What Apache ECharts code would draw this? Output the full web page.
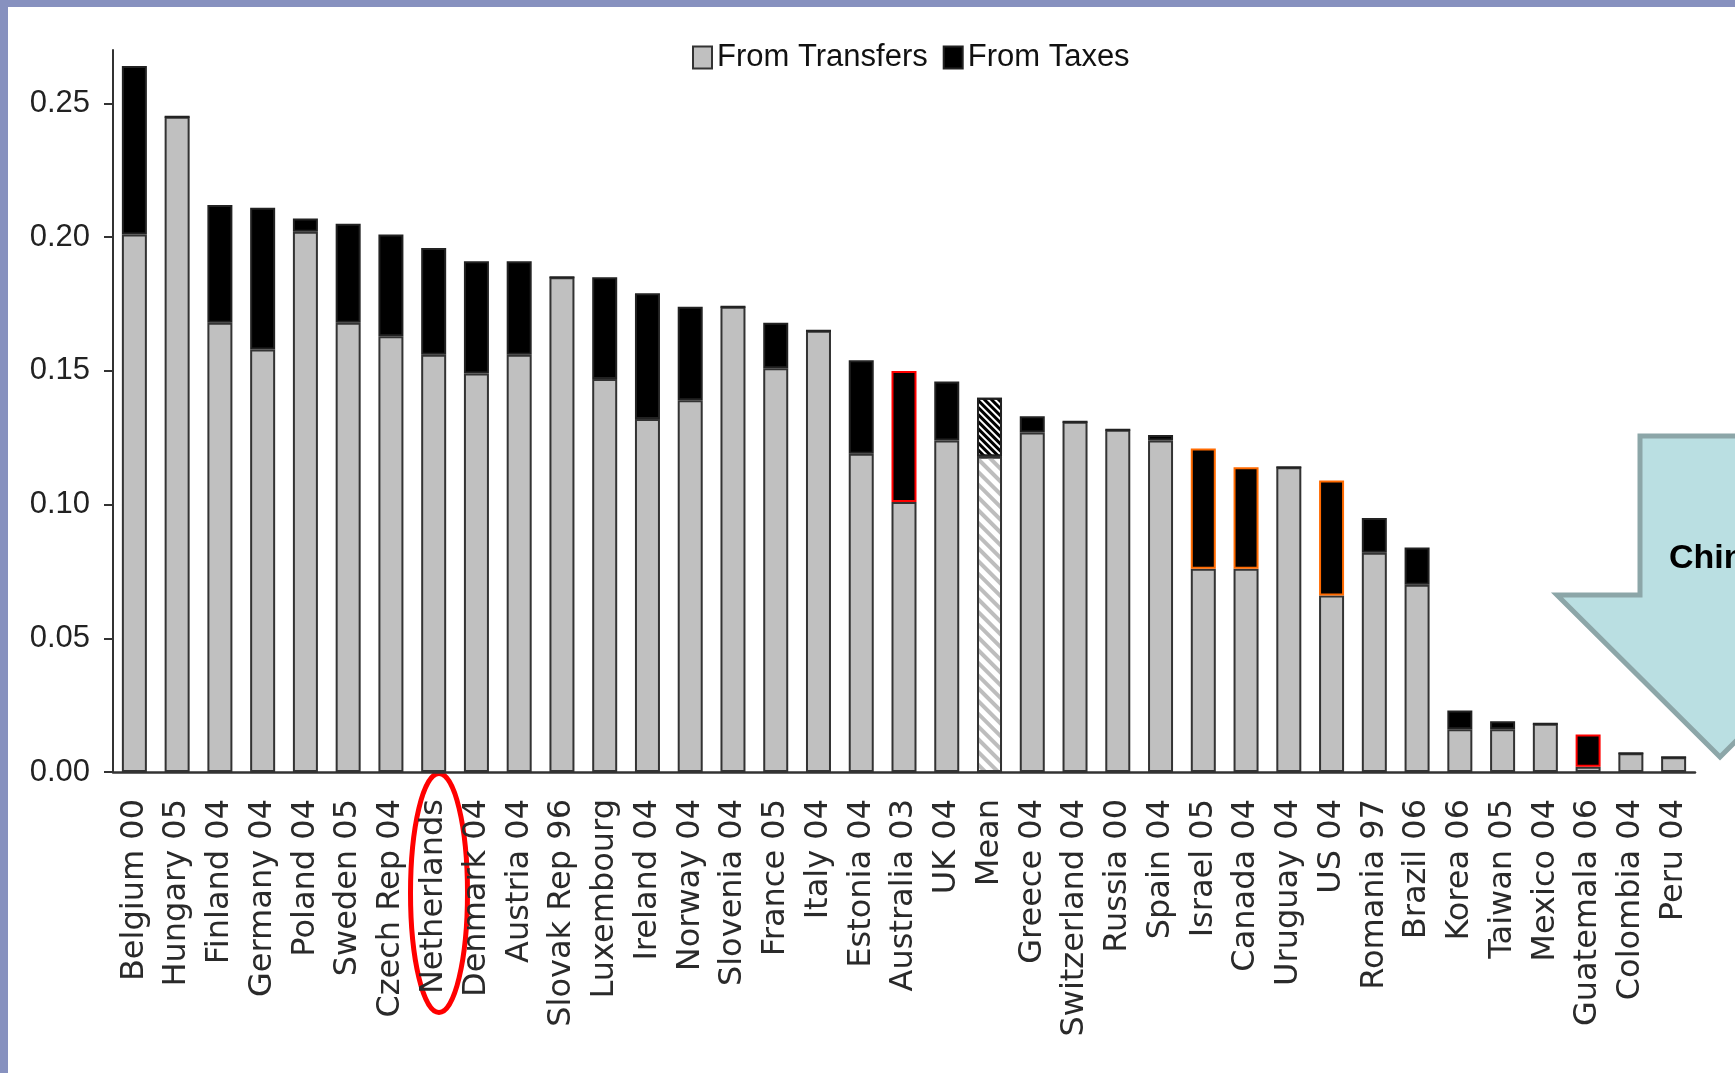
<!DOCTYPE html>
<html>
<head>
<meta charset="utf-8">
<title>Redistribution from transfers and taxes</title>
<script src="https://cdn.jsdelivr.net/npm/echarts@6.0.0/dist/echarts.min.js"></script>
<style>
  html, body { margin: 0; padding: 0; background: #fff; }
  #chart { width: 1735px; height: 1073px; }
</style>
</head>
<body>
<div id="chart"></div>
<script>
// countries (survey year) in the order of the picture
const categories = [
  'Belgium 00', 'Hungary 05', 'Finland 04', 'Germany 04', 'Poland 04', 'Sweden 05',
  'Czech Rep 04', 'Netherlands', 'Denmark 04', 'Austria 04', 'Slovak Rep 96', 'Luxembourg',
  'Ireland 04', 'Norway 04', 'Slovenia 04', 'France 05', 'Italy 04', 'Estonia 04',
  'Australia 03', 'UK 04', 'Mean', 'Greece 04', 'Switzerland 04', 'Russia 00',
  'Spain 04', 'Israel 05', 'Canada 04', 'Uruguay 04', 'US 04', 'Romania 97',
  'Brazil 06', 'Korea 06', 'Taiwan 05', 'Mexico 04', 'Guatemala 06', 'Colombia 04', 'Peru 04'
]
const fromTransfers = [
  0.201, 0.245, 0.168, 0.158, 0.202, 0.168,
  0.163, 0.156, 0.149, 0.156, 0.185, 0.147,
  0.132, 0.139, 0.174, 0.151, 0.165, 0.119,
  0.101, 0.124, 0.118, 0.127, 0.131, 0.128,
  0.124, 0.076, 0.076, 0.114, 0.066, 0.082,
  0.070, 0.016, 0.016, 0.018, 0.002, 0.007, 0.0055
]
const fromTaxes = [
  0.063, 0, 0.044, 0.053, 0.005, 0.037,
  0.038, 0.040, 0.042, 0.035, 0, 0.038,
  0.047, 0.035, 0, 0.017, 0, 0.035,
  0.049, 0.022, 0.022, 0.006, 0, 0,
  0.002, 0.045, 0.038, 0, 0.043, 0.013,
  0.014, 0.007, 0.003, 0, 0.012, 0, 0
]
const yTicks = [0, 0.05, 0.10, 0.15, 0.20, 0.25]

// bars whose tax part is outlined in the picture
const redOutline = ['Australia 03', 'Guatemala 06']
const orangeOutline = ['Israel 05', 'Canada 04', 'US 04']

const chart = echarts.init(document.getElementById('chart'))

const transferData = fromTransfers.map((v, i) => {
  if (categories[i] === 'Mean') {
    return {
      value: v,
      itemStyle: {
        color: '#fff',
        decal: {symbol: 'rect', symbolSize: 1, dashArrayX: [1, 0], dashArrayY: [4, 5], rotation: Math.PI / 4, color: '#bdbdbd'}
      }
    }
  }
  return v
})
const taxData = fromTaxes.map((v, i) => {
  const name = categories[i]
  if (name === 'Mean') {
    return {
      value: v,
      itemStyle: {
        color: '#fff',
        decal: {symbol: 'rect', symbolSize: 1, dashArrayX: [1, 0], dashArrayY: [3, 2], rotation: Math.PI / 4, color: '#000'}
      }
    }
  }
  if (redOutline.includes(name)) return {value: v, itemStyle: {borderColor: '#ff0000'}}
  if (orangeOutline.includes(name)) return {value: v, itemStyle: {borderColor: '#ff6a00'}}
  return v
})

const option = {
  animation: false,
  backgroundColor: '#fff',
  textStyle: {fontFamily: '"Liberation Sans", Arial, sans-serif'},
  legend: {
    left: 687,
    top: 37,
    icon: 'rect',
    itemWidth: 19,
    itemHeight: 22,
    itemGap: 15,
    selectedMode: false,
    textStyle: {fontFamily: '"Liberation Sans", Arial, sans-serif', fontSize: 31, color: '#111'},
    data: ['From Transfers', 'From Taxes']
  },
  grid: {left: 113, right: 40, top: 50, bottom: 301},
  xAxis: {
    type: 'category',
    data: categories,
    axisLine: {lineStyle: {color: '#333', width: 2.5}},
    axisTick: {show: false},
    axisLabel: {
      interval: 0,
      rotate: 90,
      margin: 27,
      padding: [8, 0, 0, 0],
      color: '#2a2a2a',
      fontFamily: '"DejaVu Sans", Verdana, sans-serif',
      fontSize: 32
    }
  },
  yAxis: {
    type: 'value',
    min: 0,
    max: 0.27,
    interval: 0.05,
    splitLine: {show: false},
    axisLine: {show: true, lineStyle: {color: '#333', width: 2}},
    axisTick: {show: true, length: 9, lineStyle: {color: '#333', width: 2}, customValues: yTicks},
    axisLabel: {
      margin: 23,
      color: '#222',
      fontSize: 31,
      customValues: yTicks,
      formatter: v => (v > 0.26 ? '' : v.toFixed(2))
    }
  },
  series: [
    {
      name: 'From Transfers',
      type: 'bar',
      stack: 'total',
      barWidth: 25,
      itemStyle: {color: '#c0c0c0', borderColor: '#333', borderWidth: 2},
      data: transferData
    },
    {
      name: 'From Taxes',
      type: 'bar',
      stack: 'total',
      barWidth: 25,
      itemStyle: {color: '#000', borderColor: '#222', borderWidth: 2},
      data: taxData
    }
  ],
  graphic: [
    // slide frame
    {type: 'rect', shape: {x: 0, y: 0, width: 1735, height: 7}, style: {fill: '#8791bf'}},
    {type: 'rect', shape: {x: 0, y: 0, width: 8, height: 1073}, style: {fill: '#8791bf'}},
    // circled label
    {type: 'ellipse', shape: {cx: 439, cy: 893, rx: 28.5, ry: 119.5}, style: {fill: 'none', stroke: '#ff0000', lineWidth: 5}},
    // big arrow
    {
      type: 'polygon',
      shape: {points: [[1640, 436], [1800, 436], [1800, 595], [1883, 595], [1720, 757], [1557, 595], [1640, 595]]},
      style: {fill: '#badfe2', stroke: '#8ca6a8', lineWidth: 5, lineJoin: 'miter'}
    },
    {
      type: 'text',
      x: 1669,
      y: 559,
      style: {text: 'China', fill: '#000', font: 'bold 34px "Liberation Sans", Arial, sans-serif', verticalAlign: 'middle'}
    }
  ]
}

chart.setOption(option)

window.onresize = function () {
  chart.resize()
}
</script>
</body>
</html>
